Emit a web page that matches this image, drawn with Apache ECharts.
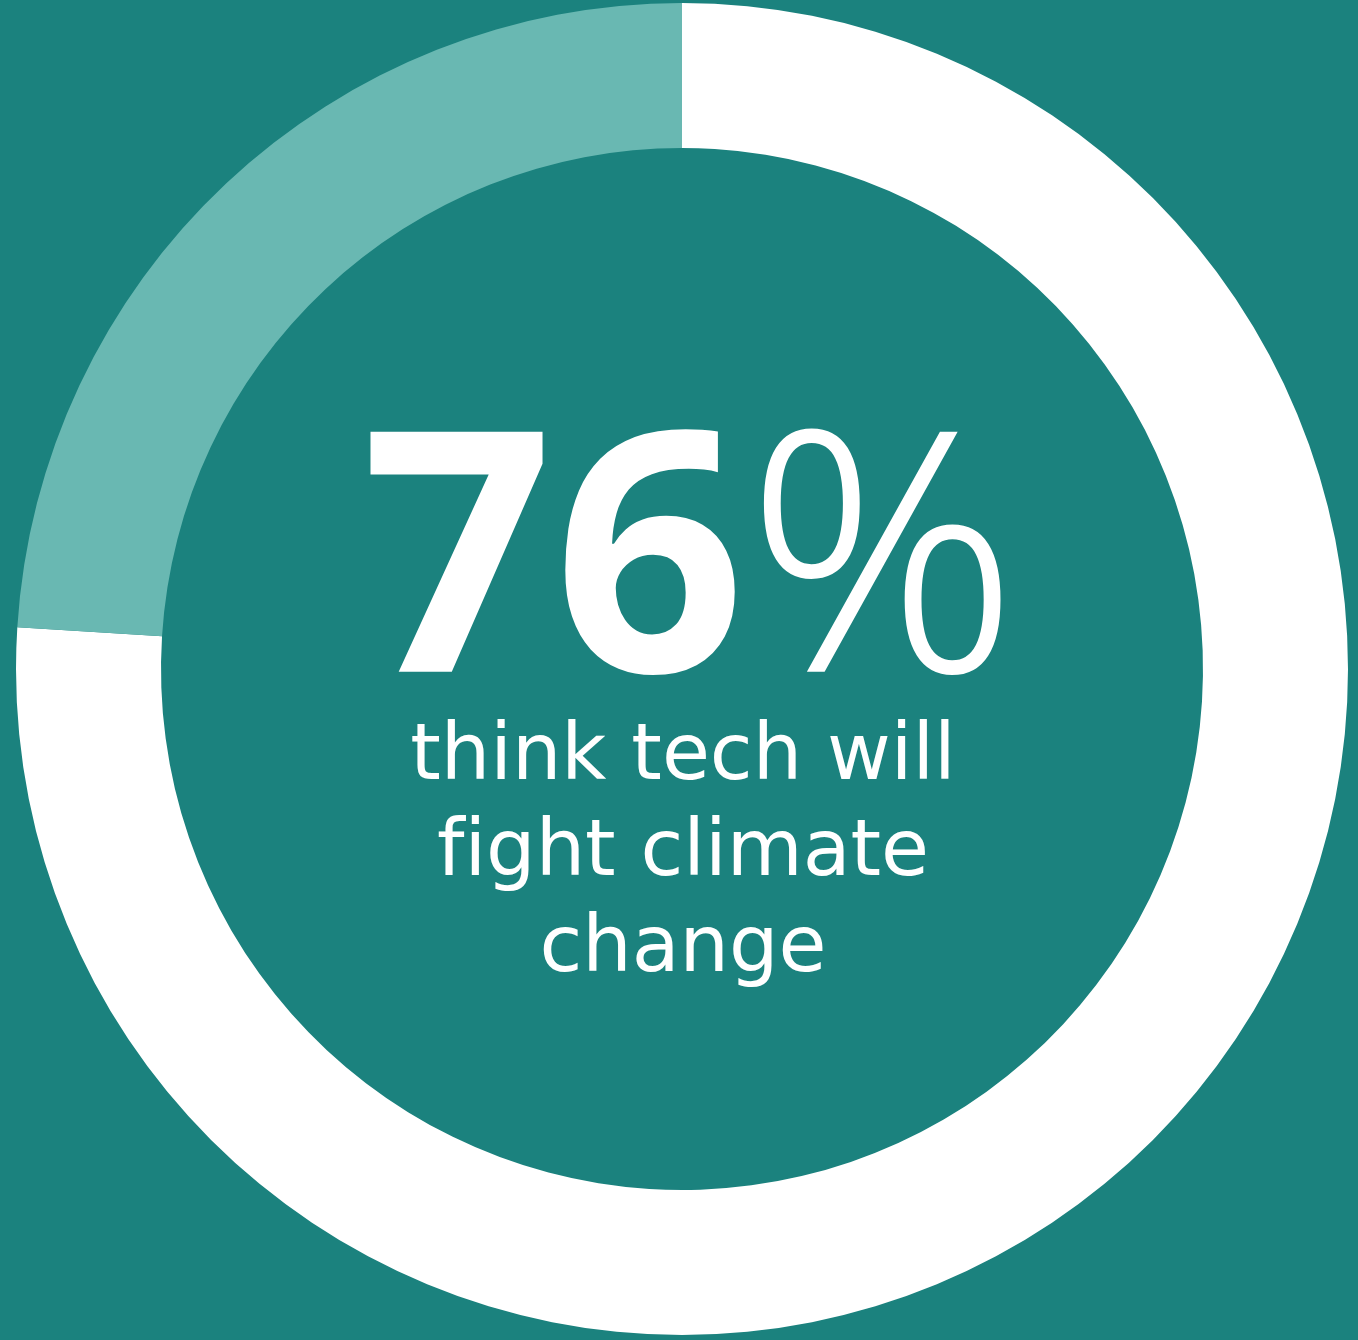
<!DOCTYPE html>
<html>
<head>
<meta charset="utf-8">
<script src="https://cdn.jsdelivr.net/npm/echarts@6/dist/echarts.min.js"></script>
<style>
  html, body { margin: 0; padding: 0; background: #1b827e; }
  #chart { width: 1358px; height: 1340px; }
</style>
</head>
<body>
<div id="chart"></div>
<script>
// Share of respondents, in percent
const categories = ['Think tech will fight climate change', 'Other'];
const values = [76, 24];
const headline = '76';
const captionLines = ['think tech will', 'fight climate', 'change'];

const colors = ['#ffffff', '#69b8b2'];

const chart = echarts.init(document.getElementById('chart'), null, { renderer: 'canvas' });

chart.setOption({
  backgroundColor: '#1b827e',
  animation: false,
  series: [{
    type: 'pie',
    center: [682, 669],
    radius: [521, 666],
    startAngle: 90,
    clockwise: true,
    silent: true,
    label: { show: false },
    labelLine: { show: false },
    itemStyle: { borderWidth: 0 },
    data: categories.map((name, i) => ({
      name: name,
      value: values[i],
      itemStyle: { color: colors[i] }
    }))
  }],
  graphic: [
    {
      type: 'text',
      x: 690,
      y: 744,
      style: {
        text: '{num|' + headline + '}{pct|%}',
        textAlign: 'center',
        textVerticalAlign: 'bottom',
        rich: {
          num: {
            fontFamily: 'Noto Sans',
            fontWeight: 'bold',
            fontSize: 336,
            fill: '#ffffff',
            lineHeight: 336
          },
          pct: {
            fontFamily: 'Noto Sans',
            fontWeight: 300,
            fontSize: 336,
            fill: '#ffffff',
            lineHeight: 336
          }
        }
      }
    },
    ...captionLines.map((line, i) => ({
      type: 'text',
      x: 683,
      y: 798 + i * 96,
      style: {
        // keep "f" and "i" as separate glyphs (no fi ligature)
        text: line.replace(/fi/g, 'f\u200Ci'),
        textAlign: 'center',
        textVerticalAlign: 'bottom',
        fontFamily: 'DejaVu Sans',
        fontSize: 78,
        fill: '#ffffff'
      }
    }))
  ]
});
</script>
</body>
</html>
